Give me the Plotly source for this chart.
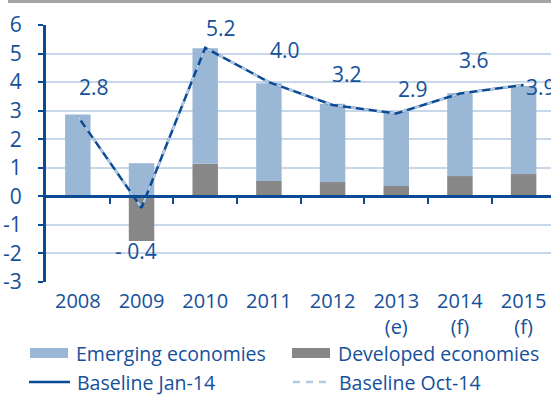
import plotly.graph_objects as go

# --- data -------------------------------------------------------------
years = ["2008", "2009", "2010", "2011", "2012", "2013<br>(e)", "2014<br>(f)", "2015<br>(f)"]
emerging = [2.87, 1.16, 4.05, 3.42, 2.74, 2.59, 2.90, 3.08]
developed = [0.00, -1.56, 1.14, 0.54, 0.50, 0.36, 0.71, 0.78]
baseline_jan14 = [2.8, -0.4, 5.2, 4.0, 3.2, 2.9, 3.6, 3.9]
baseline_oct14 = [2.8, -0.4, 5.2, 4.0, 3.2, 2.9, 3.6, 3.9]
y_ticks = [-3, -2, -1, 0, 1, 2, 3, 4, 5, 6]

# --- styling ----------------------------------------------------------
W, H = 551, 395
L, R, T, B = 46, 551, 25, 282          # plot area in pixels
FONT = "Open Sans"
TXT = "#15509a"
DARK = "#0b4a94"
LIGHT_LINE = "#b3c9e2"
C_EMERG = "#9bb7d6"
C_DEVEL = "#878787"
GRID = "#c8d8ea"

# label offsets (pixels) relative to each point of the Jan-14 line
lab_dx = [16, -6, 16, 16, 14, 17, 14, 17]
lab_dy = [29, -43, 20, 32, 31, 25, 34, -2]

x_idx = list(range(len(years)))
x_range = [-0.5, len(years) - 0.57]


def px_x(p):
    return (p - L) / (R - L)


def px_y(p):
    return (B - p) / (B - T)


fig = go.Figure()

fig.add_trace(go.Bar(x=x_idx, y=developed, name="Developed economies",
                     marker=dict(color=C_DEVEL, line=dict(width=0)), width=0.4))
fig.add_trace(go.Bar(x=x_idx, y=emerging, name="Emerging economies",
                     marker=dict(color=C_EMERG, line=dict(width=0)), width=0.4))
fig.add_trace(go.Scatter(x=x_idx, y=baseline_jan14, name="Baseline Jan-14", mode="lines",
                         xaxis="x2", line=dict(color=DARK, width=2.5)))
fig.add_trace(go.Scatter(x=x_idx, y=baseline_oct14, name="Baseline Oct-14", mode="lines",
                         xaxis="x2", line=dict(color=LIGHT_LINE, width=2.5, dash="5px,8px")))

# value labels
for xi, v, dx, dy in zip(x_idx, baseline_jan14, lab_dx, lab_dy):
    txt = f"- {abs(v):.1f}" if v < 0 else f"{v:.1f}"
    fig.add_annotation(x=xi, y=v, xref="x2", yref="y", text=txt, showarrow=False,
                       xshift=dx, yshift=dy, xanchor="center", yanchor="middle",
                       font=dict(family=FONT, size=21, color=TXT))

# grey rule along the top
fig.add_shape(type="line", xref="paper", yref="paper",
              x0=px_x(8), x1=px_x(W), y0=px_y(1.5), y1=px_y(1.5),
              line=dict(color="#a5a5a5", width=3))

# legend, two columns by two rows
leg_font = dict(family=FONT, size=19.5, color=TXT)
row1, row2 = 353, 382
fig.add_shape(type="rect", xref="paper", yref="paper", x0=px_x(30), x1=px_x(68),
              y0=px_y(row1 - 5), y1=px_y(row1 + 5), fillcolor=C_EMERG, line=dict(width=0))
fig.add_shape(type="rect", xref="paper", yref="paper", x0=px_x(292), x1=px_x(330),
              y0=px_y(row1 - 5), y1=px_y(row1 + 5), fillcolor=C_DEVEL, line=dict(width=0))
fig.add_shape(type="line", xref="paper", yref="paper", x0=px_x(29), x1=px_x(70),
              y0=px_y(row2), y1=px_y(row2), line=dict(color=DARK, width=2.5))
fig.add_shape(type="line", xref="paper", yref="paper", x0=px_x(293), x1=px_x(331),
              y0=px_y(row2), y1=px_y(row2), line=dict(color=LIGHT_LINE, width=2.5, dash="7px,6px"))
for xp, yp, name in [(75, row1, "Emerging economies"), (337, row1, "Developed economies"),
                     (76, row2, "Baseline Jan-14"), (338, row2, "Baseline Oct-14")]:
    fig.add_annotation(x=px_x(xp), y=px_y(yp), xref="paper", yref="paper", text=name,
                       showarrow=False, xanchor="left", yanchor="middle", font=leg_font,
                       borderpad=0)

fig.update_layout(
    width=W, height=H,
    margin=dict(l=L, r=W - R, t=T, b=H - B),
    paper_bgcolor="white", plot_bgcolor="white",
    barmode="relative", showlegend=False,
    xaxis=dict(range=x_range, tickvals=x_idx, ticktext=years, showgrid=False,
               zeroline=False, showline=False, ticks="",
               tickfont=dict(family=FONT, size=20, color=TXT), ticklabelstandoff=5),
    xaxis2=dict(range=x_range, overlaying="x", anchor="free", position=3 / 9,
                showline=True, linecolor=DARK, linewidth=3,
                tickvals=[i + 0.5 for i in x_idx], ticks="outside", ticklen=6,
                tickwidth=2, tickcolor=DARK, showticklabels=False,
                showgrid=False, zeroline=False, layer="above traces"),
    yaxis=dict(range=[-3, 6], tickvals=y_ticks, ticktext=[str(v) for v in y_ticks],
               showgrid=True, gridcolor=GRID,
               gridwidth=1.5, zeroline=False, showline=True, linecolor=DARK,
               linewidth=3, ticks="outside", ticklen=5, tickwidth=2, tickcolor=DARK,
               tickfont=dict(family=FONT, size=21, color=TXT), ticklabelstandoff=12),
)

fig.write_html("out.html")
